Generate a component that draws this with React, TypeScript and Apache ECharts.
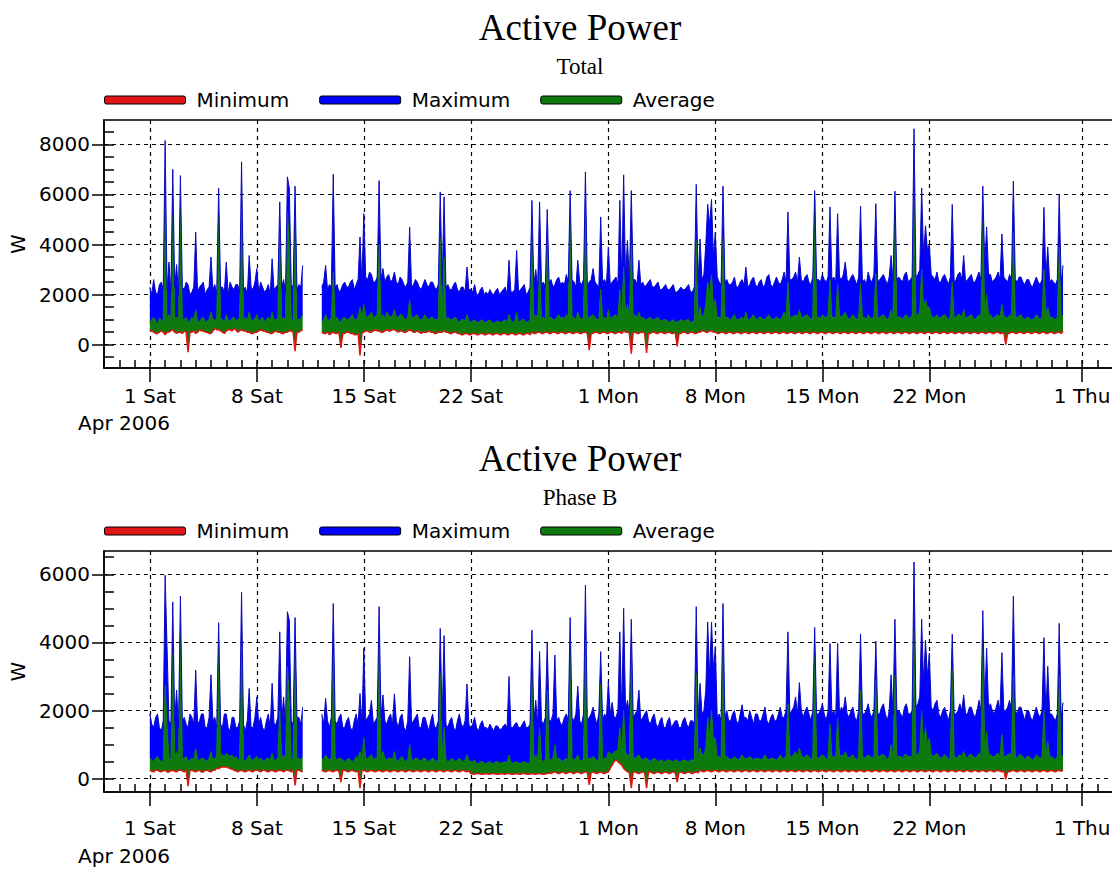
import React, { useEffect, useRef } from 'react';
import * as echarts from 'echarts';

// Sampling: one value every 3 hours, days counted from 1 Apr 2006 00:00
const STEP = 0.125;
const SEG1_START = 0;
const SEG2_START = 11.25;
const GAP_DAY = 10.6;

const TICK_DAYS = [0, 7, 14, 21, 30, 37, 44, 51, 61];
const TICK_LABELS = ['1 Sat', '8 Sat', '15 Sat', '22 Sat', '1 Mon', '8 Mon', '15 Mon', '22 Mon', '1 Thu'];

const TOTAL_Y_TICKS = [0, 2000, 4000, 6000, 8000];
const TOTAL_Y_MINOR = [-500, 0, 500, 1000, 1500, 2000, 2500, 3000, 3500, 4000, 4500, 5000, 5500, 6000, 6500, 7000, 7500, 8000, 8500];
const PHASE_Y_TICKS = [0, 2000, 4000, 6000];
const PHASE_Y_MINOR = [0, 500, 1000, 1500, 2000, 2500, 3000, 3500, 4000, 4500, 5000, 5500, 6000, 6500];

// ---------- Total (1 Apr 00:00 .. 11 Apr 00:00) ----------
const TOTAL_MAX_1 = [
  2300, 2000, 2600, 2100, 2000, 2400, 2500, 2200,
  8150, 2200, 3300, 2100, 7000, 2300, 3200, 2000,
  6750, 2300, 2200, 2500, 2400, 2000, 2100, 2300,
  4490, 2100, 2300, 2400, 2500, 2000, 2200, 2300,
  3500, 2200, 2400, 2000, 6250, 2300, 2300, 2100,
  3300, 2000, 2500, 2300, 2200, 2400, 2400, 2100,
  7300, 2200, 2300, 2000, 3560, 2300, 2200, 2500,
  3040, 2100, 2500, 2300, 2100, 2200, 2400, 2000,
  3430, 2200, 2300, 2400, 5700, 2300, 2600, 2100,
  6700, 6250, 2400, 2300, 6330, 2200, 2400, 2300,
  3170];
const TOTAL_AVG_1 = [
  900, 1000, 1100, 950, 800, 1050, 1000, 900,
  5600, 1000, 1200, 950, 5200, 1050, 1100, 900,
  5500, 1000, 1000, 1100, 900, 950, 1100, 1000,
  1400, 950, 900, 1050, 1100, 900, 950, 1000,
  1300, 1000, 1000, 950, 5200, 1050, 1000, 900,
  1200, 1000, 900, 1050, 1100, 950, 1000, 1100,
  5400, 1000, 1100, 950, 1300, 1000, 950, 1050,
  1200, 950, 1000, 1100, 900, 1000, 1100, 950,
  1300, 1000, 1000, 1050, 4500, 1000, 1100, 950,
  5300, 4000, 1000, 950, 5400, 1000, 1000, 1050,
  1200];
const TOTAL_MIN_1 = [
  600, 550, 500, 450, 450, 500, 550, 500,
  400, 500, 500, 550, 600, 500, 450, 500,
  500, 450, 550, 500, -300, 500, 500, 550,
  450, 500, 600, 550, 550, 500, 500, 450,
  450, 550, 650, 600, 600, 550, 500, 450,
  550, 600, 600, 550, 650, 600, 500, 550,
  600, 550, 550, 500, 500, 450, 450, 500,
  500, 550, 600, 550, 550, 500, 500, 450,
  450, 500, 550, 500, 500, 450, 450, 500,
  500, 550, 550, 500, -260, 500, 500, 550,
  600];

// ---------- Total (12 Apr 06:00 .. 30 May 18:00) ----------
const TOTAL_MAX_2 = [
  2300, 2500, 3170, 2200, 2400, 2300,
  6800, 2300, 2400, 2100, 2200, 2400, 2500, 2300,
  2300, 2500, 2600, 2200, 2400, 2600, 4300, 2500,
  5230, 2700, 2600, 2900, 2800, 2500, 2500, 2700,
  6550, 2600, 3040, 2500, 2700, 2800, 2500, 2600,
  2900, 2500, 2400, 2700, 2600, 2400, 2300, 2500,
  4690, 2300, 2400, 2600, 2500, 2300, 2200, 2400,
  2600, 2400, 2300, 2500, 2500, 2300, 2200, 2400,
  6100, 2400, 5900, 2300, 2400, 2200, 2200, 2400,
  2500, 2200, 2100, 2300, 2300, 2100, 3100, 2200,
  2200, 2100, 2400, 2000, 2000, 2200, 2300, 2000,
  2100, 2000, 2200, 2050, 2000, 2150, 2250, 2000,
  2100, 2200, 2300, 2000, 3370, 2100, 2100, 2200,
  3760, 2100, 2200, 2300, 2400, 2000, 2100, 2300,
  5760, 2400, 3000, 2300, 5700, 2400, 2500, 2300,
  5400, 2500, 2600, 2300, 2400, 2600, 2700, 2400,
  2500, 2400, 2800, 2500, 6150, 2600, 2500, 2300,
  3370, 2500, 2400, 2600, 6900, 2400, 2500, 2600,
  3040, 2500, 2400, 2300, 5100, 2500, 2600, 2400,
  3900, 2400, 2500, 2600, 2700, 2400, 5760, 2600,
  6780, 2700, 4160, 2500, 6150, 2600, 2600, 2400,
  3370, 2400, 2500, 2300, 2400, 2500, 2600, 2300,
  2300, 2400, 2500, 2200, 2200, 2300, 2400, 2200,
  2200, 2300, 2400, 2100, 2100, 2200, 2300, 2200,
  2200, 2300, 2400, 2100, 2100, 2300, 6400, 2500,
  4220, 2600, 2800, 4000, 5600, 4800, 5800, 3500,
  4500, 2700, 2500, 2400, 6330, 2500, 2600, 2400,
  2400, 2500, 2700, 2300, 2300, 2500, 2600, 2400,
  3100, 2300, 2400, 2600, 2700, 2400, 2300, 2500,
  2600, 2300, 2400, 2700, 2800, 2400, 2300, 2500,
  2700, 2500, 2400, 2600, 2900, 2500, 5300, 2600,
  2600, 2700, 2900, 2500, 3500, 2600, 2500, 2700,
  2800, 2500, 2400, 2700, 6150, 2600, 2600, 2500,
  2800, 2600, 2500, 2700, 5500, 2600, 2700, 2500,
  5230, 2700, 2600, 2800, 3300, 2600, 2500, 2700,
  2800, 2600, 2400, 2700, 5530, 2500, 2600, 2400,
  2900, 2600, 2500, 2800, 5630, 2500, 2600, 2700,
  2800, 2600, 2400, 2700, 3560, 2500, 6130, 2600,
  2700, 2600, 2500, 2800, 2900, 2500, 2600, 2700,
  8620, 2700, 2800, 3000, 6250, 3500, 4750, 3800,
  4000, 2800, 2700, 2600, 2900, 2500, 2500, 2700,
  2800, 2600, 2400, 2700, 5600, 2500, 2600, 2800,
  2900, 2600, 3560, 2500, 2600, 2700, 2800, 2500,
  2500, 2700, 2900, 2600, 6330, 3200, 4700, 2800,
  2800, 2500, 2600, 2700, 2900, 2600, 4420, 2700,
  2600, 2500, 2800, 2600, 6530, 2600, 2500, 2700,
  2700, 2500, 2400, 2600, 2600, 2400, 2300, 2500,
  2700, 2500, 2400, 2600, 5480, 2700, 3900, 2500,
  2600, 2500, 2400, 2600, 6000, 2500, 3170];
const TOTAL_AVG_2 = [
  900, 1000, 1200, 950, 1000, 1050,
  2900, 1000, 1100, 950, 900, 1050, 1100, 1000,
  1000, 1100, 1200, 1000, 1000, 1100, 1500, 1100,
  1600, 1150, 1100, 1200, 1300, 1100, 1100, 1200,
  4000, 1100, 1200, 1050, 1300, 1200, 1100, 1150,
  1400, 1100, 1100, 1200, 1200, 1050, 1000, 1100,
  1800, 1050, 1100, 1150, 1200, 1000, 1000, 1050,
  1200, 1050, 1000, 1100, 1100, 1000, 1000, 1050,
  4300, 1050, 3500, 1000, 1100, 1000, 1000, 1050,
  1100, 950, 900, 1000, 1000, 950, 1200, 950,
  900, 950, 1000, 900, 900, 950, 1000, 900,
  900, 950, 1000, 900, 850, 900, 950, 900,
  900, 950, 1000, 900, 1200, 950, 900, 950,
  1300, 900, 950, 1000, 1000, 900, 900, 1000,
  4160, 1000, 1200, 1000, 3000, 1050, 1100, 1000,
  4420, 1050, 1100, 1000, 1000, 1100, 1200, 1050,
  1100, 1050, 1200, 1100, 5000, 1100, 1100, 1000,
  1300, 1100, 1000, 1100, 5500, 1000, 1100, 1150,
  1200, 1100, 1000, 1000, 2200, 1050, 1100, 1000,
  1400, 1050, 1100, 1150, 1200, 1000, 2200, 1100,
  3100, 1150, 1600, 1100, 4000, 1100, 1200, 1050,
  1300, 1050, 1100, 1000, 1000, 1050, 1100, 1000,
  1000, 1050, 1100, 950, 950, 1000, 1000, 950,
  900, 950, 1000, 900, 900, 950, 1000, 950,
  950, 1000, 1000, 900, 900, 1000, 4160, 1050,
  1500, 1100, 1200, 1600, 2500, 2000, 2800, 1500,
  1800, 1100, 1100, 1050, 4300, 1100, 1100, 1050,
  1000, 1100, 1200, 1000, 1000, 1050, 1100, 1000,
  1300, 1000, 1000, 1100, 1200, 1050, 1000, 1100,
  1100, 1000, 1000, 1100, 1200, 1050, 1000, 1050,
  1100, 1050, 1000, 1100, 1300, 1100, 2500, 1100,
  1100, 1150, 1200, 1100, 1400, 1100, 1100, 1150,
  1200, 1100, 1000, 1100, 5800, 1100, 1100, 1050,
  1200, 1100, 1100, 1150, 2600, 1100, 1100, 1050,
  2400, 1150, 1100, 1200, 1300, 1100, 1000, 1100,
  1200, 1100, 1000, 1100, 2440, 1050, 1100, 1000,
  1200, 1100, 1000, 1150, 2840, 1050, 1100, 1150,
  1200, 1100, 1000, 1100, 1400, 1050, 5300, 1100,
  1100, 1100, 1000, 1150, 1200, 1050, 1100, 1150,
  5800, 1150, 1200, 1300, 3000, 1400, 1800, 1500,
  1500, 1150, 1100, 1100, 1200, 1050, 1100, 1150,
  1200, 1100, 1000, 1150, 2500, 1050, 1100, 1200,
  1200, 1100, 1400, 1050, 1100, 1150, 1200, 1050,
  1000, 1100, 1200, 1100, 5000, 1300, 2000, 1200,
  1200, 1050, 1100, 1150, 1200, 1100, 1600, 1150,
  1100, 1050, 1200, 1100, 4490, 1100, 1100, 1150,
  1200, 1050, 1000, 1100, 1100, 1000, 1000, 1050,
  1200, 1100, 1000, 1100, 3000, 1150, 1500, 1100,
  1100, 1050, 1000, 1100, 3900, 1100, 1200];
const TOTAL_MIN_2 = [
  500, 450, 450, 500, 400, 450,
  500, 450, 450, 500, -130, 450, 450, 500,
  500, 450, 450, 400, 400, 450, -430, 450,
  500, 550, 550, 500, 500, 550, 600, 550,
  550, 500, 500, 550, 600, 550, 550, 600,
  600, 550, 500, 550, 550, 500, 500, 550,
  600, 550, 500, 500, 550, 500, 450, 500,
  500, 500, 550, 500, 500, 450, 450, 500,
  500, 500, 550, 500, 500, 450, 450, 500,
  500, 450, 450, 400, 400, 450, 450, 400,
  400, 450, 450, 400, 400, 450, 450, 400,
  400, 450, 450, 400, 400, 450, 450, 400,
  400, 450, 450, 400, 400, 450, 450, 400,
  400, 450, 450, 400, 400, 450, 450, 400,
  500, 450, 450, 500, 500, 450, 450, 500,
  500, 450, 450, 500, 500, 450, 450, 500,
  500, 450, 450, 500, 500, 450, 450, 500,
  500, 450, 450, 500, 500, 450, -220, 450,
  450, 500, 500, 450, 450, 500, 500, 450,
  450, 500, 500, 450, 450, 500, 500, 450,
  550, 500, 500, 450, -360, 500, 500, 450,
  450, 500, 500, 450, -330, 450, 450, 500,
  500, 450, 450, 500, 500, 450, 450, 500,
  500, 450, 450, 500, -70, 450, 450, 500,
  500, 450, 450, 500, 500, 450, 450, 500,
  500, 550, 550, 500, 500, 550, 550, 500,
  500, 450, 450, 500, 500, 450, 450, 500,
  500, 450, 450, 500, 500, 450, 450, 500,
  500, 450, 450, 500, 500, 450, 450, 500,
  500, 450, 450, 500, 500, 450, 450, 500,
  500, 450, 450, 500, 500, 450, 450, 500,
  500, 450, 450, 500, 500, 450, 450, 500,
  500, 450, 450, 500, 500, 450, 450, 500,
  500, 450, 450, 500, 500, 450, 450, 500,
  500, 450, 450, 500, 500, 450, 450, 500,
  500, 450, 450, 500, 500, 450, 450, 500,
  500, 450, 450, 500, 500, 450, 450, 500,
  500, 450, 450, 500, 500, 450, 450, 500,
  500, 450, 450, 500, 500, 450, 450, 500,
  500, 450, 450, 500, 500, 450, 450, 500,
  500, 450, 450, 500, 500, 450, 450, 500,
  500, 450, 450, 500, 500, 450, 450, 500,
  500, 450, 450, 500, 500, 450, 450, 500,
  500, 450, 450, 500, 500, 450, 450, 500,
  500, 450, 450, 500, 500, 450, 450, 500,
  0, 450, 450, 500, 500, 450, 450, 500,
  500, 450, 450, 500, 500, 450, 450, 500,
  500, 450, 450, 500, 500, 450, 450, 500,
  500, 450, 450, 500, 500, 450, 550];

// ---------- Phase B (1 Apr 00:00 .. 11 Apr 00:00) ----------
const PHASE_MAX_1 = [
  1900, 1600, 1500, 1800, 1900, 1500, 1400, 1700,
  5970, 3880, 1700, 1600, 5190, 1700, 2600, 1500,
  5360, 1700, 1800, 1600, 1500, 1900, 1800, 1600,
  3190, 1600, 1700, 1900, 1900, 1500, 1500, 1800,
  3050, 1700, 1800, 1500, 4580, 1600, 1500, 1900,
  1900, 1500, 1400, 1800, 1800, 1500, 1500, 1700,
  5470, 1600, 1400, 1700, 2650, 1500, 1500, 1800,
  2400, 1600, 1800, 1500, 1400, 1700, 1900, 1500,
  2800, 1600, 1600, 1800, 4310, 1700, 2400, 1600,
  4900, 4650, 1700, 1600, 4730, 1800, 1800, 1600,
  2100];
const PHASE_AVG_1 = [
  600, 550, 500, 600, 650, 550, 500, 550,
  2750, 1500, 600, 550, 3680, 600, 800, 550,
  4270, 550, 600, 650, 500, 550, 600, 550,
  900, 550, 550, 600, 600, 550, 500, 600,
  800, 550, 600, 650, 3970, 700, 700, 650,
  750, 700, 650, 700, 600, 650, 550, 600,
  3880, 550, 500, 600, 700, 550, 550, 600,
  650, 550, 600, 550, 500, 600, 600, 550,
  750, 550, 550, 600, 2000, 600, 700, 550,
  3290, 2200, 600, 550, 3970, 600, 600, 550,
  650];
const PHASE_MIN_1 = [
  250, 220, 200, 250, 250, 220, 200, 230,
  250, 200, 200, 230, 250, 220, 200, 250,
  250, 230, 200, 250, -220, 250, 250, 220,
  200, 230, 250, 200, 200, 250, 250, 220,
  200, 250, 250, 300, 300, 330, 350, 340,
  350, 320, 300, 280, 250, 230, 200, 240,
  250, 220, 200, 230, 250, 220, 200, 250,
  250, 230, 200, 250, 250, 220, 200, 230,
  250, 220, 200, 240, 250, 230, 200, 250,
  250, 230, 200, 250, -200, 250, 250, 220,
  200];

// ---------- Phase B (12 Apr 06:00 .. 30 May 18:00) ----------
const PHASE_MAX_2 = [
  1900, 1600, 2360, 1700, 1500, 1800,
  5140, 1700, 1600, 1800, 1900, 1500, 1500, 1700,
  1800, 1500, 1400, 1700, 1900, 1600, 2500, 1600,
  3830, 1700, 1800, 1900, 2300, 1600, 1700, 1800,
  5050, 1800, 2460, 1700, 1600, 1800, 1900, 1600,
  2490, 1700, 1500, 1800, 1900, 1500, 1400, 1700,
  3580, 1600, 1700, 1800, 1900, 1500, 1500, 1800,
  1800, 1600, 1400, 1700, 1900, 1500, 1500, 1700,
  4410, 1700, 4200, 1600, 1500, 1700, 1800, 1500,
  1400, 1700, 1900, 1600, 1500, 1700, 2780, 1600,
  1500, 1600, 1800, 1500, 1400, 1600, 1700, 1500,
  1500, 1450, 1600, 1500, 1400, 1550, 1550, 1450,
  1450, 1550, 1600, 1500, 3000, 1500, 1500, 1600,
  1650, 1500, 1500, 1600, 1700, 1500, 1500, 1600,
  4360, 1700, 2300, 1600, 3730, 1700, 1600, 1800,
  3990, 1700, 1700, 1900, 3630, 1700, 1800, 1600,
  1600, 1800, 1900, 1700, 4730, 1800, 1700, 1900,
  2720, 1700, 1600, 1900, 5680, 1700, 1800, 1900,
  2100, 1800, 1600, 1900, 3730, 1700, 1900, 1800,
  2850, 1900, 2240, 1800, 1800, 2000, 4310, 1900,
  5000, 2000, 2300, 1900, 4680, 1800, 1900, 2000,
  2600, 1700, 1800, 1900, 2000, 1700, 1600, 1800,
  1900, 1600, 1500, 1700, 1800, 1500, 1500, 1700,
  1800, 1500, 1600, 1700, 1700, 1500, 1500, 1700,
  1800, 1600, 1500, 1700, 1700, 1600, 5050, 1800,
  2800, 1900, 2000, 2600, 4600, 3000, 4600, 3200,
  3880, 1800, 1900, 1700, 5140, 1800, 2000, 1700,
  1700, 1900, 2000, 1700, 1600, 1900, 2170, 1800,
  1800, 1700, 2000, 1800, 1600, 1900, 1900, 1700,
  1700, 1900, 2100, 1700, 1600, 1800, 1900, 1700,
  1700, 1900, 2100, 1800, 1800, 2000, 4310, 1900,
  2000, 2100, 2400, 1900, 2820, 2000, 1800, 2000,
  2100, 1900, 1700, 2000, 4440, 1900, 1900, 2000,
  2200, 1900, 1700, 2000, 3970, 1900, 2000, 1800,
  3970, 1900, 2100, 2000, 2400, 1900, 1800, 2000,
  2100, 1800, 1700, 2000, 4250, 1900, 1900, 2000,
  2200, 1900, 1800, 2000, 4040, 1900, 1900, 2100,
  2200, 1900, 1700, 2000, 3050, 1900, 4680, 2000,
  2000, 1900, 1800, 2100, 2200, 1900, 1900, 2000,
  6360, 2100, 2200, 2400, 4680, 2800, 4070, 3000,
  3680, 2100, 2000, 2200, 2300, 1900, 1800, 2000,
  2100, 1900, 1700, 2000, 4240, 1900, 1900, 2000,
  2200, 2000, 2460, 1900, 1900, 2100, 2100, 1900,
  1800, 2000, 2300, 2000, 4930, 2200, 3830, 2100,
  2200, 2000, 1900, 2100, 2300, 2000, 3700, 2000,
  2000, 2100, 2300, 2000, 5360, 2000, 1900, 2100,
  2100, 1900, 1700, 2000, 2000, 1800, 1700, 1900,
  2100, 1900, 1800, 2000, 4140, 1900, 3300, 1900,
  1900, 1800, 1700, 1900, 4560, 1800, 2240];
const PHASE_AVG_2 = [
  600, 550, 700, 600, 550, 600,
  3680, 600, 550, 600, 600, 550, 500, 550,
  600, 550, 500, 550, 650, 600, 800, 600,
  1200, 600, 600, 650, 700, 550, 600, 600,
  3970, 600, 800, 600, 550, 600, 600, 550,
  800, 550, 500, 600, 650, 550, 500, 550,
  1000, 550, 550, 600, 600, 550, 500, 600,
  600, 550, 500, 550, 600, 550, 500, 550,
  3090, 550, 1500, 550, 500, 550, 600, 550,
  500, 550, 600, 550, 500, 550, 700, 550,
  500, 500, 550, 450, 450, 500, 500, 450,
  450, 480, 500, 450, 450, 500, 500, 470,
  450, 480, 500, 470, 700, 480, 450, 480,
  500, 470, 450, 480, 500, 470, 450, 480,
  3000, 550, 700, 550, 1500, 550, 500, 550,
  2600, 550, 550, 600, 1000, 550, 600, 550,
  500, 550, 600, 550, 3830, 600, 550, 600,
  700, 550, 500, 600, 4070, 550, 600, 600,
  650, 600, 500, 600, 2800, 550, 600, 600,
  800, 750, 700, 800, 800, 850, 1500, 900,
  2000, 750, 700, 650, 3780, 600, 600, 650,
  700, 600, 550, 600, 600, 550, 500, 550,
  600, 550, 500, 550, 550, 500, 500, 550,
  550, 520, 500, 550, 550, 500, 500, 540,
  550, 520, 500, 550, 550, 520, 3090, 600,
  900, 700, 700, 900, 1800, 1200, 2000, 1100,
  1200, 650, 650, 600, 3970, 650, 650, 600,
  550, 600, 650, 600, 550, 600, 700, 600,
  600, 600, 650, 600, 550, 600, 600, 580,
  550, 600, 700, 600, 550, 600, 600, 580,
  550, 600, 700, 600, 600, 650, 2200, 650,
  650, 700, 800, 650, 900, 700, 600, 650,
  700, 650, 550, 650, 3630, 650, 600, 650,
  700, 650, 550, 650, 1600, 650, 650, 600,
  1800, 650, 700, 650, 800, 650, 600, 650,
  700, 600, 550, 650, 2600, 650, 600, 650,
  700, 650, 600, 650, 2900, 650, 650, 700,
  700, 650, 550, 650, 1000, 650, 3050, 650,
  650, 650, 600, 700, 700, 650, 650, 650,
  4410, 700, 700, 800, 2000, 1000, 1500, 1000,
  1200, 700, 650, 700, 750, 650, 600, 650,
  700, 650, 550, 650, 3240, 650, 600, 650,
  700, 650, 800, 650, 600, 700, 700, 650,
  600, 650, 750, 650, 4070, 800, 1400, 700,
  700, 650, 650, 700, 750, 650, 1300, 650,
  650, 700, 750, 650, 3050, 650, 600, 700,
  700, 650, 550, 650, 650, 600, 550, 600,
  700, 650, 600, 650, 2000, 650, 1100, 650,
  650, 600, 550, 650, 3000, 600, 700];
const PHASE_MIN_2 = [
  250, 220, 200, 230, 250, 220,
  200, 230, 250, 220, -100, 250, 250, 220,
  200, 230, 250, 220, 200, 230, -280, 230,
  250, 220, 200, 230, 250, 220, 200, 230,
  250, 220, 200, 230, 250, 220, 200, 230,
  250, 220, 200, 230, 250, 220, 200, 230,
  250, 220, 200, 230, 250, 220, 200, 230,
  250, 220, 200, 230, 250, 220, 200, 230,
  250, 220, 200, 230, 250, 220, 200, 230,
  250, 220, 200, 230, 250, 220, 200, 230,
  150, 140, 130, 150, 150, 140, 130, 140,
  150, 140, 130, 150, 150, 140, 130, 140,
  150, 140, 130, 150, 150, 140, 130, 140,
  150, 140, 130, 150, 150, 140, 130, 140,
  150, 140, 130, 150, 150, 140, 130, 140,
  150, 170, 150, 180, 200, 170, 150, 170,
  200, 170, 150, 180, 200, 170, 150, 180,
  200, 170, 150, 180, 200, 170, -180, 180,
  200, 170, 150, 180, 200, 170, 150, 180,
  200, 300, 400, 500, 550, 500, 450, 400,
  300, 250, 200, 180, -280, 200, 200, 170,
  150, 180, 200, 170, -280, 200, 200, 170,
  150, 180, 200, 170, 150, 180, 200, 170,
  150, 180, 200, 170, -100, 180, 200, 170,
  150, 180, 200, 170, 150, 180, 200, 170,
  250, 220, 200, 230, 250, 220, 200, 230,
  250, 220, 200, 230, 250, 220, 200, 230,
  250, 220, 200, 230, 250, 220, 200, 230,
  250, 220, 200, 230, 250, 220, 200, 230,
  250, 220, 200, 230, 250, 220, 200, 230,
  250, 220, 200, 230, 250, 220, 200, 230,
  250, 220, 200, 230, 250, 220, 200, 230,
  250, 220, 200, 230, 250, 220, 200, 230,
  250, 220, 200, 230, 250, 220, 200, 230,
  250, 220, 200, 230, 250, 220, 200, 230,
  250, 220, 200, 230, 250, 220, 200, 230,
  250, 220, 200, 230, 250, 220, 200, 230,
  250, 220, 200, 230, 250, 220, 200, 230,
  250, 220, 200, 230, 250, 220, 200, 230,
  250, 220, 200, 230, 250, 220, 200, 230,
  250, 220, 200, 230, 250, 220, 200, 230,
  250, 220, 200, 230, 250, 220, 200, 230,
  250, 220, 200, 230, 250, 220, 200, 230,
  250, 220, 200, 230, 250, 220, 200, 230,
  250, 220, 200, 230, 250, 220, 200, 230,
  -20, 220, 200, 230, 250, 220, 200, 230,
  250, 220, 200, 230, 250, 220, 200, 230,
  250, 220, 200, 230, 250, 220, 200, 230,
  250, 220, 200, 230, 250, 220, 250];

const RED = '#e01515';
const GREEN = '#0d7a0d';
const BLUE = '#0000ff';
const BLUE_LINE = '#0a0ac0';
const FONT = 'DejaVu Sans';
const SERIF = 'Liberation Serif';

function times(start: number, n: number) {
  return Array.from({ length: n }, (_, i) => start + i * STEP);
}

// Each data item is [value, day] so that the stack is applied to the value (y) dimension.
function panelSeries(p: number, min1: number[], avg1: number[], max1: number[], min2: number[], avg2: number[], max2: number[]) {
  const t1 = times(SEG1_START, min1.length);
  const t2 = times(SEG2_START, min2.length);
  const build = (f1: (i: number) => number, f2: (i: number) => number) => [
    ...t1.map((t, i) => [f1(i), t]),
    ['-', GAP_DAY],
    ...t2.map((t, i) => [f2(i), t]),
  ];
  const mins = build((i) => min1[i], (i) => min2[i]);
  const avgs = build((i) => avg1[i] - min1[i], (i) => avg2[i] - min2[i]);
  const maxs = build((i) => max1[i] - avg1[i], (i) => max2[i] - avg2[i]);
  const common = {
    type: 'line',
    xAxisIndex: 2 * p,
    yAxisIndex: 2 * p,
    encode: { x: 1, y: 0 },
    stack: 'band' + p,
    stackStrategy: 'all',
    symbol: 'none',
    showSymbol: false,
    silent: true,
    connectNulls: false,
  };
  return [
    { ...common, name: 'Minimum', data: mins, lineStyle: { color: RED, width: 1.5 }, itemStyle: { color: RED } },
    { ...common, name: 'Average', data: avgs, lineStyle: { color: GREEN, width: 1 }, itemStyle: { color: GREEN }, areaStyle: { color: GREEN, opacity: 1 } },
    { ...common, name: 'Maximum', data: maxs, lineStyle: { color: BLUE_LINE, width: 1 }, itemStyle: { color: BLUE }, areaStyle: { color: BLUE, opacity: 1 } },
  ];
}

const axisLineStyle = { color: '#000', width: 1.5 };
const labelStyle = { color: '#000', fontFamily: FONT, fontSize: 20 };
const dashed = { color: '#000', width: 1.2, type: [4, 4] };

function xAxes(p: number, labelMargin: number) {
  return [
    {
      type: 'value', gridIndex: p, min: -3, max: 64, position: 'bottom',
      axisLine: { show: true, onZero: false, lineStyle: axisLineStyle },
      axisTick: { show: true, inside: false, length: 14, customValues: TICK_DAYS, lineStyle: axisLineStyle },
      axisLabel: {
        show: true, customValues: TICK_DAYS, margin: labelMargin, ...labelStyle,
        formatter: (v: number) => {
          const k = TICK_DAYS.indexOf(v);
          return k >= 0 ? TICK_LABELS[k] : '';
        },
      },
      splitLine: { show: true, lineStyle: dashed },
    },
    {
      type: 'value', gridIndex: p, min: -3, max: 64, interval: 1, position: 'bottom',
      axisLine: { show: false, onZero: false },
      axisTick: { show: true, inside: true, length: 8, lineStyle: axisLineStyle },
      axisLabel: { show: false },
      splitLine: { show: false },
    },
  ];
}

function yAxes(p: number, min: number, max: number, ticks: number[], minor: number[]) {
  return [
    {
      type: 'value', gridIndex: p, min, max, position: 'left',
      name: 'W', nameLocation: 'middle', nameGap: 74, nameRotate: 90,
      nameTextStyle: { ...labelStyle },
      axisLine: { show: true, onZero: false, lineStyle: axisLineStyle },
      axisTick: { show: true, inside: false, length: 12, customValues: ticks, lineStyle: axisLineStyle },
      axisLabel: { show: true, customValues: ticks, margin: 14, ...labelStyle, formatter: (v: number) => String(v) },
      splitLine: { show: true, lineStyle: dashed },
    },
    {
      type: 'value', gridIndex: p, min, max, position: 'left',
      axisLine: { show: false, onZero: false },
      axisTick: { show: true, inside: true, length: 10, customValues: minor, lineStyle: axisLineStyle },
      axisLabel: { show: false },
      splitLine: { show: false },
    },
  ];
}

function legendFor(top: number) {
  return {
    data: ['Minimum', 'Maximum', 'Average'],
    left: 104, top, padding: 0,
    icon: 'roundRect', itemWidth: 81, itemHeight: 8, itemGap: 30,
    itemStyle: { borderColor: '#000', borderWidth: 1 },
    textStyle: { ...labelStyle, padding: [0, 0, 0, 6] },
    selectedMode: false,
  };
}

function titleFor(text: string, top: number, size: number) {
  return {
    text, left: 580, top, padding: 0, textAlign: 'center',
    textStyle: { fontFamily: SERIF, fontSize: size, fontWeight: 'normal', color: '#000' },
  };
}

export default function App() {
  const ref = useRef<HTMLDivElement>(null);
  useEffect(() => {
    if (!ref.current) return;
    const chart = echarts.init(ref.current, null, { renderer: 'svg' });
    const option = {
      animation: false,
      backgroundColor: '#fff',
      title: [
        titleFor('Active Power', 9, 37),
        titleFor('Total', 55, 23),
        titleFor('Active Power', 440, 37),
        titleFor('Phase B', 486, 23),
      ],
      legend: [legendFor(90), legendFor(521)],
      grid: [
        { left: 104, right: 12, top: 120, height: 248, show: true, borderColor: '#000', borderWidth: 1.5 },
        { left: 104, right: 12, top: 551, height: 241, show: true, borderColor: '#000', borderWidth: 1.5 },
      ],
      xAxis: [...xAxes(0, 18), ...xAxes(1, 26)],
      yAxis: [
        ...yAxes(0, -930, 8970, TOTAL_Y_TICKS, TOTAL_Y_MINOR),
        ...yAxes(1, -390, 6683, PHASE_Y_TICKS, PHASE_Y_MINOR),
      ],
      graphic: [
        { type: 'text', left: 78, top: 413, style: { text: 'Apr 2006', fill: '#000', font: '20px "DejaVu Sans"' } },
        { type: 'text', left: 78, top: 846, style: { text: 'Apr 2006', fill: '#000', font: '20px "DejaVu Sans"' } },
      ],
      series: [
        ...panelSeries(0, TOTAL_MIN_1, TOTAL_AVG_1, TOTAL_MAX_1, TOTAL_MIN_2, TOTAL_AVG_2, TOTAL_MAX_2),
        ...panelSeries(1, PHASE_MIN_1, PHASE_AVG_1, PHASE_MAX_1, PHASE_MIN_2, PHASE_AVG_2, PHASE_MAX_2),
      ],
    };
    chart.setOption(option as any);
    return () => chart.dispose();
  }, []);
  return (
    <div style={{ position: 'absolute', left: 0, top: 0, width: 1112, height: 869, overflow: 'hidden', background: '#fff' }}>
      <div ref={ref} style={{ width: 1140, height: 869 }} />
    </div>
  );
}
